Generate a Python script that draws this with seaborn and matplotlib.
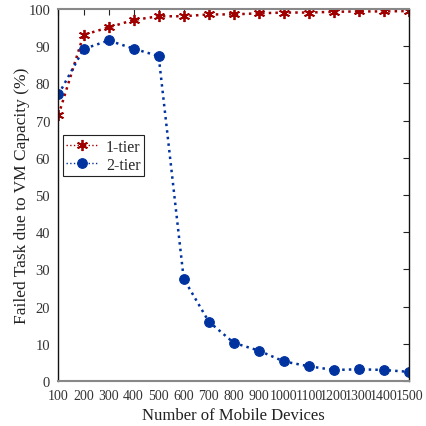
import matplotlib
matplotlib.use("Agg")
import matplotlib.pyplot as plt
import seaborn as sns
import pandas as pd

devices = [100, 200, 300, 400, 500, 600, 700, 800, 900, 1000, 1100, 1200, 1300, 1400, 1500]
one_tier = [71.5, 93.0, 95.0, 97.0, 98.0, 98.0, 98.5, 98.5, 98.8, 99.0, 99.0, 99.2, 99.3, 99.3, 99.4]
two_tier = [77.0, 89.2, 91.5, 89.3, 87.3, 27.5, 16.0, 10.3, 8.2, 5.3, 4.0, 3.0, 3.2, 3.0, 2.5]
x_ticks = devices
y_ticks = [0, 10, 20, 30, 40, 50, 60, 70, 80, 90, 100]

sns.set_theme(style="white")
plt.rcParams["font.family"] = ["Liberation Serif", "DejaVu Serif"]

df1 = pd.DataFrame({"devices": devices, "failed": one_tier})
df2 = pd.DataFrame({"devices": devices, "failed": two_tier})

fig = plt.figure(figsize=(4.27, 4.27), dpi=100)
ax = fig.add_axes([0.137, 0.105, 0.821, 0.872])

red = "#A00000"
blue = "#0033A0"
sns.lineplot(data=df1, x="devices", y="failed", ax=ax, color=red,
             linestyle=":", linewidth=1.8, marker=(6, 2, 0), markersize=8,
             markeredgewidth=1.3, markeredgecolor=red, label="1-tier")
sns.lineplot(data=df2, x="devices", y="failed", ax=ax, color=blue,
             linestyle=":", linewidth=1.8, marker="o", markersize=7,
             markeredgecolor=blue, label="2-tier")

ax.set_xlim(100, 1500)
ax.set_ylim(0, 100)
ax.set_xticks(x_ticks)
ax.set_yticks(y_ticks)
ax.tick_params(direction="in", length=4, width=0.8, pad=6,
               top=True, right=True, colors="#222222", labelcolor="#333333")
ax.tick_params(axis="x", labelsize=10)
ax.tick_params(axis="y", labelsize=10.5)
for side in ["left", "right"]:
    ax.spines[side].set_color("#111111")
    ax.spines[side].set_linewidth(1.0)
for side in ["top", "bottom"]:
    ax.spines[side].set_color("#888888")
    ax.spines[side].set_linewidth(1.5)

ax.set_xlabel("Number of Mobile Devices", fontsize=12, color="#222222", labelpad=3)
ax.set_ylabel("Failed Task due to VM Capacity (%)", fontsize=12.5, color="#222222", labelpad=-1)

leg = ax.legend(loc="upper left", bbox_to_anchor=(0.012, 0.66), fontsize=11.5,
                frameon=True, fancybox=False, framealpha=1, edgecolor="#222222",
                borderpad=0.2, labelspacing=0.15, handlelength=2.0, handletextpad=0.5,
                borderaxespad=0.0)
leg.get_frame().set_linewidth(0.8)
for h in leg.get_lines():
    h.set_linewidth(1.0)

fig.savefig("out.png", dpi=100)
